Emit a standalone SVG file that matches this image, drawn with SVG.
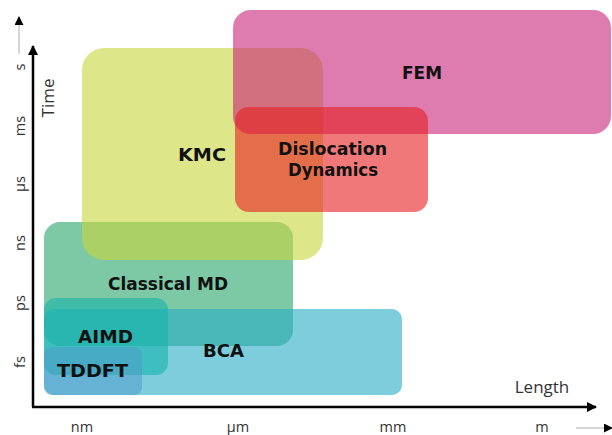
<svg xmlns="http://www.w3.org/2000/svg" width="612" height="435" viewBox="0 0 612 435">
<defs>
<style>
.lbl{font-family:"DejaVu Sans","Liberation Sans",sans-serif;font-weight:bold;font-size:17.5px;fill:#111}
.ax{font-family:"Open Sans","Liberation Sans",sans-serif;font-size:14.5px;fill:#333;text-anchor:middle}
.big{font-size:17px}
.box{fill-opacity:0.6}
</style>
<marker id="ah" viewBox="0 0 10 10" refX="9" refY="5" markerWidth="4" markerHeight="4" orient="auto" markerUnits="strokeWidth">
<path d="M0,0 L10,5 L0,10 z" fill="#000"/>
</marker>
<marker id="ahs" viewBox="0 0 10 10" refX="9" refY="5" markerWidth="9" markerHeight="9" orient="auto" markerUnits="userSpaceOnUse">
<path d="M0,0 L10,5 L0,10 z" fill="#000"/>
</marker>
</defs>
<rect width="612" height="435" fill="#fff"/>
<g id="nodes">
<g id="classical-md"><rect class="box" x="44" y="222" width="249" height="124" rx="16" fill="#26a369"/><text class="lbl" x="108" y="290" textLength="120" lengthAdjust="spacingAndGlyphs">Classical MD</text></g>
<g id="kmc"><rect class="box" x="82" y="48" width="241" height="212" rx="22" fill="#c8d53c"/><text class="lbl" x="178" y="161" textLength="48" lengthAdjust="spacingAndGlyphs">KMC</text></g>
<g id="fem"><rect class="box" x="233" y="10" width="378" height="124" rx="18" fill="#c8237a"/><text class="lbl" x="402" y="79" textLength="40" lengthAdjust="spacingAndGlyphs">FEM</text></g>
<g id="dislocation-dynamics"><rect class="box" x="235" y="107" width="193" height="105" rx="14" fill="#e61e1e"/><text class="lbl" x="278" y="155" textLength="109" lengthAdjust="spacingAndGlyphs">Dislocation</text><text class="lbl" x="288" y="176" textLength="90" lengthAdjust="spacingAndGlyphs">Dynamics</text></g>
<g id="bca"><rect class="box" x="44" y="309" width="358" height="86" rx="10" fill="#26acc5"/><text class="lbl" x="203" y="357" textLength="41" lengthAdjust="spacingAndGlyphs">BCA</text></g>
<g id="aimd"><rect class="box" x="44" y="298" width="124" height="77" rx="12" fill="#14b4aa"/><text class="lbl" x="78" y="343" textLength="55" lengthAdjust="spacingAndGlyphs">AIMD</text></g>
<g id="tddft"><rect x="44" y="347" width="98" height="48" rx="8" fill="#4f98cc" fill-opacity="0.5"/><text class="lbl" x="57" y="377" textLength="71" lengthAdjust="spacingAndGlyphs">TDDFT</text></g>
</g>
<g id="connectors" fill="none">
<line x1="33" y1="407" x2="33" y2="46" stroke="#000" stroke-width="2.5" marker-end="url(#ah)"/>
<line x1="32" y1="407" x2="596" y2="407" stroke="#000" stroke-width="2.5" marker-end="url(#ah)"/>
<line x1="19" y1="54" x2="19" y2="17" stroke="#999" stroke-width="0.8" marker-end="url(#ahs)"/>
<line x1="576" y1="428" x2="612" y2="428" stroke="#999" stroke-width="0.8" marker-end="url(#ahs)"/>
</g>
<g id="axis-labels">
<text class="ax" transform="translate(25,67) rotate(-90)">s</text>
<text class="ax" transform="translate(25,126) rotate(-90)">ms</text>
<text class="ax" transform="translate(25,184) rotate(-90)">µs</text>
<text class="ax" transform="translate(25,243) rotate(-90)">ns</text>
<text class="ax" transform="translate(25,303) rotate(-90)">ps</text>
<text class="ax" transform="translate(25,362) rotate(-90)">fs</text>
<text class="ax big" transform="translate(54,98) rotate(-90)">Time</text>
<text class="ax big" x="542" y="393">Length</text>
<text class="ax" x="82" y="432">nm</text>
<text class="ax" x="238" y="432">µm</text>
<text class="ax" x="393" y="432">mm</text>
<text class="ax" x="542" y="432">m</text>
</g>
</svg>
